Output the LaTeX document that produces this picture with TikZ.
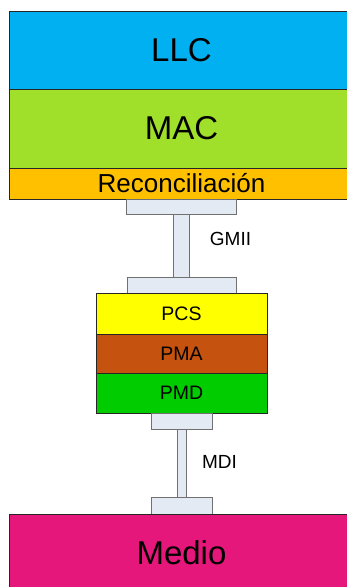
\documentclass[tikz,border=0pt]{standalone}
\usepackage{fontspec}
\setmainfont{Liberation Sans}
\definecolor{llcc}{HTML}{00B0F0}
\definecolor{macc}{HTML}{A0E02A}
\definecolor{recc}{HTML}{FFC000}
\definecolor{pcsc}{HTML}{FFFF00}
\definecolor{pmac}{HTML}{C5520E}
\definecolor{pmdc}{HTML}{00CC00}
\definecolor{medc}{HTML}{E6177A}
\definecolor{platec}{HTML}{E4EAF4}
\definecolor{platedraw}{HTML}{707070}
\begin{document}
\begin{tikzpicture}[x=1pt,y=-1pt,
  layer/.style={draw=black!85, line width=0.9pt, inner sep=0pt, outer sep=0pt, rectangle, text=black},
  bigtxt/.style={font=\fontsize{33}{38}\selectfont},
  midtxt/.style={font=\fontsize{26}{30}\selectfont},
  smalltxt/.style={font=\fontsize{19.5}{22}\selectfont},
  plate/.style={draw=platedraw, fill=platec, line width=0.8pt, inner sep=0pt, outer sep=0pt, rectangle},
  lbl/.style={font=\fontsize{19}{22}\selectfont, inner sep=0pt, text=black}]
\useasboundingbox (0,0) rectangle (347,587);
% upper stack
\node[layer, bigtxt, fill=llcc, minimum width=345pt, minimum height=78pt] (llc) at (181.5,50) {LLC};
\node[layer, bigtxt, fill=macc, minimum width=345pt, minimum height=79pt] (mac) at (181.5,128.5) {MAC};
\node[layer, midtxt, fill=recc, minimum width=345pt, minimum height=31pt] (rec) at (181.5,183.5) {Reconciliación};
% GMII connector
\node[plate, minimum width=110pt, minimum height=15pt] (p1) at (181,206.5) {};
\node[plate, minimum width=16pt, minimum height=63pt] (s1) at (181,245.5) {};
\node[plate, minimum width=109pt, minimum height=16pt] (p2) at (181.5,285) {};
\node[lbl] (gmii) at (230.5,239) {GMII};
% PHY stack
\node[layer, smalltxt, fill=pcsc, minimum width=171pt, minimum height=41pt] (pcs) at (181.5,313.5) {PCS};
\node[layer, smalltxt, fill=pmac, minimum width=171pt, minimum height=39pt] (pma) at (181.5,353.5) {PMA};
\node[layer, smalltxt, fill=pmdc, minimum width=171pt, minimum height=40pt] (pmd) at (181.5,393) {PMD};
% MDI connector
\node[plate, minimum width=61pt, minimum height=16pt] (p3) at (181.5,421) {};
\node[plate, minimum width=9pt, minimum height=68pt] (s2) at (181.5,463) {};
\node[plate, minimum width=61pt, minimum height=17pt] (p4) at (181.5,505.5) {};
\node[lbl] (mdi) at (219.5,462) {MDI};
% medium
\node[layer, bigtxt, fill=medc, minimum width=345pt, minimum height=78pt] (medio) at (181.5,553) {Medio};
\end{tikzpicture}
\end{document}
